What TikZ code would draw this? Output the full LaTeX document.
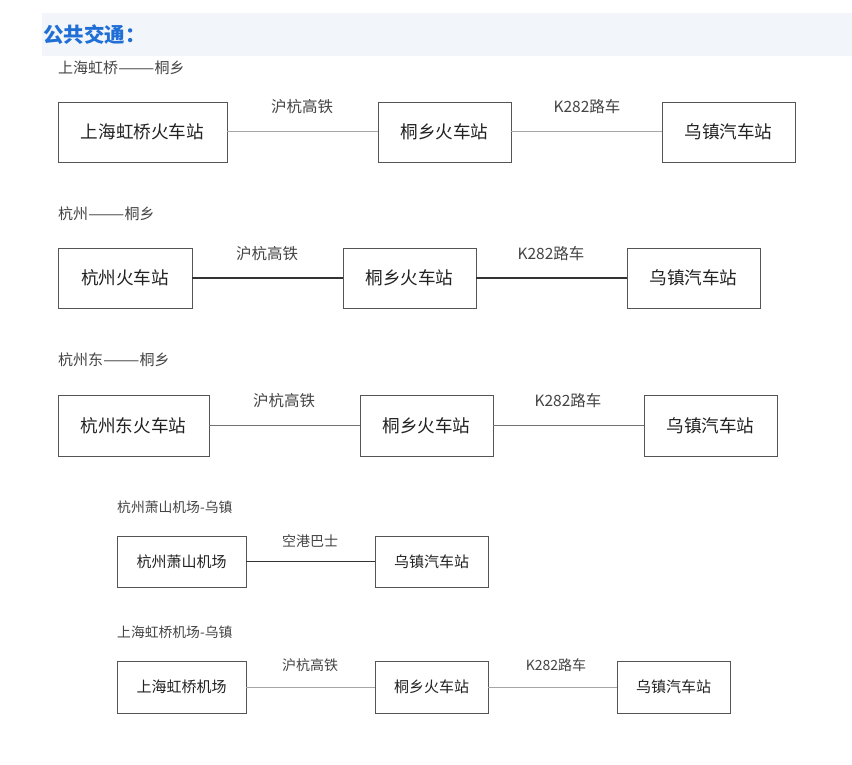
\documentclass[tikz,border=0pt]{standalone}
\usepackage{fontspec}
\usepackage{graphicx}
\setmainfont{Noto Sans CJK SC}
\definecolor{bandbg}{HTML}{F2F5FA}
\definecolor{headblue}{HTML}{1F6FD6}
\definecolor{boxline}{HTML}{555555}
\definecolor{txtdark}{HTML}{222222}
\definecolor{txtgray}{HTML}{444444}
\newcommand{\longdash}{\scalebox{1.45}[1]{——}}
\tikzset{
  stbox/.style={draw=boxline, line width=0.9pt, inner sep=0pt, outer sep=0pt, text=txtdark, font=\fontsize{17.6}{20}\selectfont},
  smbox/.style={draw=boxline, line width=0.9pt, inner sep=0pt, outer sep=0pt, text=txtdark, font=\fontsize{15}{17}\selectfont},
  rowtitle/.style={anchor=west, inner sep=0pt, text=txtgray, font=\fontsize{15}{17}\selectfont},
  smtitle/.style={anchor=west, inner sep=0pt, text=txtgray, font=\fontsize{13.8}{16}\selectfont},
  lbl/.style={inner sep=0pt, text=txtgray, font=\fontsize{15.5}{18}\selectfont},
  smlbl/.style={inner sep=0pt, text=txtgray, font=\fontsize{14}{16}\selectfont},
  lightlink/.style={draw=black!35, line width=1pt},
  darklink/.style={draw=black!80, line width=1.1pt},
  midlink/.style={draw=black!55, line width=1pt}
}
\begin{document}
\begin{tikzpicture}[x=1pt,y=-1pt]
\useasboundingbox (0,0) rectangle (852,765);
\fill[white] (0,0) rectangle (852,765);
% header band
\fill[bandbg] (42,13) rectangle (852,56);
\node[anchor=west, inner sep=0pt, text=headblue, font=\fontsize{20.5}{23}\selectfont\bfseries] (head) at (43,35) {公共交通：};

% row 1
\node[rowtitle] (t1) at (58,68) {上海虹桥\longdash 桐乡};
\node[stbox, minimum width=169pt, minimum height=60pt] (a1) at (142.5,132) {上海虹桥火车站};
\node[stbox, minimum width=133pt, minimum height=60pt] (b1) at (444.5,132) {桐乡火车站};
\node[stbox, minimum width=133pt, minimum height=60pt] (c1) at (728.5,132) {乌镇汽车站};
\draw[lightlink] (a1) -- (b1);
\draw[lightlink] (b1) -- (c1);
\node[lbl] (l1a) at (302,107) {沪杭高铁};
\node[lbl] (l1b) at (587,107) {K282路车};

% row 2
\node[rowtitle] (t2) at (58,214) {杭州\longdash 桐乡};
\node[stbox, minimum width=134pt, minimum height=60pt] (a2) at (125,278) {杭州火车站};
\node[stbox, minimum width=133pt, minimum height=60pt] (b2) at (409.5,278) {桐乡火车站};
\node[stbox, minimum width=133pt, minimum height=60pt] (c2) at (693.5,278) {乌镇汽车站};
\draw[darklink] (a2) -- (b2);
\draw[darklink] (b2) -- (c2);
\node[lbl] (l2a) at (267,254) {沪杭高铁};
\node[lbl] (l2b) at (551,254) {K282路车};

% row 3
\node[rowtitle] (t3) at (58,360) {杭州东\longdash 桐乡};
\node[stbox, minimum width=151pt, minimum height=61pt] (a3) at (133.5,425.5) {杭州东火车站};
\node[stbox, minimum width=133pt, minimum height=61pt] (b3) at (426.5,425.5) {桐乡火车站};
\node[stbox, minimum width=133pt, minimum height=61pt] (c3) at (710.5,425.5) {乌镇汽车站};
\draw[midlink] (a3) -- (b3);
\draw[midlink] (b3) -- (c3);
\node[lbl] (l3a) at (284,401) {沪杭高铁};
\node[lbl] (l3b) at (568,401) {K282路车};

% row 4
\node[smtitle] (t4) at (117,507) {杭州萧山机场-乌镇};
\node[smbox, minimum width=129pt, minimum height=51pt] (a4) at (181.5,561.5) {杭州萧山机场};
\node[smbox, minimum width=113pt, minimum height=51pt] (b4) at (431.5,561.5) {乌镇汽车站};
\draw[darklink] (a4) -- (b4);
\node[smlbl] (l4a) at (310,541) {空港巴士};

% row 5
\node[smtitle] (t5) at (117,632) {上海虹桥机场-乌镇};
\node[smbox, minimum width=129pt, minimum height=52pt] (a5) at (181.5,687) {上海虹桥机场};
\node[smbox, minimum width=113pt, minimum height=52pt] (b5) at (431.5,687) {桐乡火车站};
\node[smbox, minimum width=113pt, minimum height=52pt] (c5) at (673.5,687) {乌镇汽车站};
\draw[lightlink] (a5) -- (b5);
\draw[lightlink] (b5) -- (c5);
\node[smlbl] (l5a) at (310,665) {沪杭高铁};
\node[smlbl] (l5b) at (556,665) {K282路车};
\end{tikzpicture}
\end{document}
